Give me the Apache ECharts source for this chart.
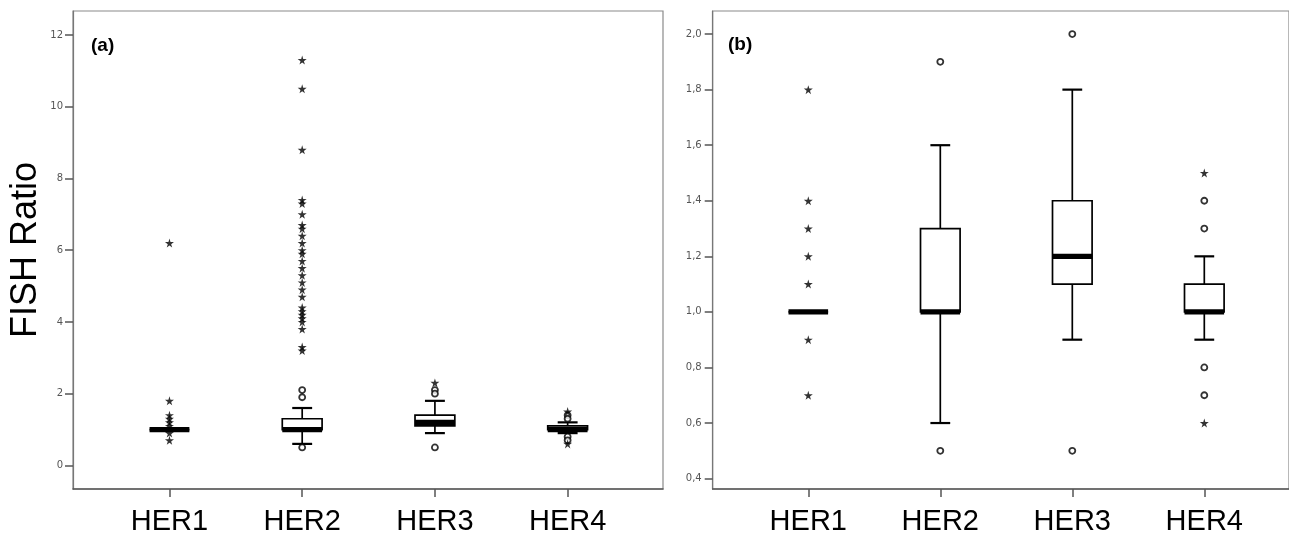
<!DOCTYPE html>
<html><head><meta charset="utf-8">
<script src="https://cdn.jsdelivr.net/npm/echarts@6/dist/echarts.min.js"></script>
<style>html,body{margin:0;padding:0;background:#fff}#c{width:1289px;height:536px}</style>
</head><body><div id="c"></div>
<script>
const categories = ['HER1', 'HER2', 'HER3', 'HER4'];
// [lower whisker, Q1, median, Q3, upper whisker]
const boxStats = [
  [1.0, 1.0, 1.0, 1.0, 1.0],
  [0.6, 1.0, 1.0, 1.3, 1.6],
  [0.9, 1.1, 1.2, 1.4, 1.8],
  [0.9, 1.0, 1.0, 1.1, 1.2]
];
const outlierCircles = [
  [],
  [2.1, 1.9, 0.5],
  [2.1, 2.0, 0.5],
  [1.4, 1.3, 0.8, 0.7]
];
const extremeStars = [
  [6.2, 1.8, 1.4, 1.3, 1.2, 1.1, 0.9, 0.7],
  [11.3, 10.5, 8.8, 7.4, 7.3, 7.0, 6.7, 6.6, 6.4, 6.2, 6.0, 5.9, 5.7, 5.5, 5.3, 5.1, 4.9, 4.7, 4.4, 4.3, 4.2, 4.1, 4.0, 3.8, 3.3, 3.2],
  [2.3],
  [1.5, 0.6]
];
const ticksA = [0, 2, 4, 6, 8, 10, 12];
const ticksB = [0.4, 0.6, 0.8, 1.0, 1.2, 1.4, 1.6, 1.8, 2.0];
const panelLabels = ['(a)', '(b)'];
const yTitle = 'FISH Ratio';

const STAR = 'path://M50,0 L61,35 L98,35 L68,57 L79,91 L50,70 L21,91 L32,57 L2,35 L39,35 Z';
const FONT = 'Liberation Sans, Arial, sans-serif';

const boxData = boxStats.map((s, i) => [i].concat(s));
const circleData = [];
outlierCircles.forEach((arr, i) => arr.forEach(v => circleData.push([categories[i], v])));
const starData = [];
extremeStars.forEach((arr, i) => arr.forEach(v => starData.push([categories[i], v])));

function renderBox(params, api) {
  const x = api.value(0);
  const lo = api.coord([x, api.value(1)]);
  const q1 = api.coord([x, api.value(2)]);
  const md = api.coord([x, api.value(3)]);
  const q3 = api.coord([x, api.value(4)]);
  const hi = api.coord([x, api.value(5)]);
  const band = api.size([1, 0])[0];
  const bw = band * 0.3, cw = bw * 0.5;
  const cx = md[0];
  const ls = { stroke: '#000', lineWidth: 1.7, fill: null };
  const ch = [];
  if (hi[1] < q3[1] - 0.5) {
    ch.push({ type: 'line', shape: { x1: cx, y1: hi[1], x2: cx, y2: q3[1] }, style: ls });
    ch.push({ type: 'line', shape: { x1: cx - cw / 2, y1: hi[1], x2: cx + cw / 2, y2: hi[1] }, style: { stroke: '#000', lineWidth: 2.2 } });
  }
  if (lo[1] > q1[1] + 0.5) {
    ch.push({ type: 'line', shape: { x1: cx, y1: q1[1], x2: cx, y2: lo[1] }, style: ls });
    ch.push({ type: 'line', shape: { x1: cx - cw / 2, y1: lo[1], x2: cx + cw / 2, y2: lo[1] }, style: { stroke: '#000', lineWidth: 2.2 } });
  }
  ch.push({ type: 'rect', shape: { x: cx - bw / 2, y: q3[1], width: bw, height: q1[1] - q3[1] }, style: { fill: '#fff', stroke: '#000', lineWidth: 1.7 } });
  ch.push({ type: 'rect', shape: { x: cx - bw / 2, y: md[1] - 2.6, width: bw, height: 5.2 }, style: { fill: '#000' } });
  return { type: 'group', children: ch };
}

function frameX(gi) {
  return { gridIndex: gi, type: 'value', min: 0, max: 1,
    axisLine: { show: true, onZero: false, lineStyle: { color: '#555', width: 1.5 } },
    axisTick: { show: false }, axisLabel: { show: false }, splitLine: { show: false } };
}
function dataX(gi) {
  return { gridIndex: gi, type: 'category', data: categories, axisLine: { show: false, onZero: false },
    axisTick: { show: true, alignWithLabel: true, length: 8, lineStyle: { color: '#555', width: 1.5 } },
    axisLabel: { fontSize: 29, fontFamily: FONT, color: '#000', margin: 18 }, splitLine: { show: false } };
}
function hiddenY(gi, min, max) {
  return { gridIndex: gi, type: 'value', min: min, max: max, show: false, splitLine: { show: false } };
}

function panelSeries(xi, yi) {
  return [
    { type: 'custom', xAxisIndex: xi, yAxisIndex: yi, renderItem: renderBox, data: boxData,
      encode: { x: 0, y: [1, 2, 3, 4, 5] }, clip: true, z: 2 },
    { type: 'scatter', xAxisIndex: xi, yAxisIndex: yi, data: circleData, symbol: 'circle', symbolSize: 6,
      itemStyle: { color: '#fff', borderColor: '#000', borderWidth: 1.8 }, clip: true, z: 3 },
    { type: 'scatter', xAxisIndex: xi, yAxisIndex: yi, data: starData, symbol: STAR, symbolSize: 9,
      itemStyle: { color: '#000' }, clip: true, z: 3 }
  ];
}

const aMin = -0.658, aMax = 12.669, bMin = 0.3626, bMax = 2.083;

const option = {
  animation: false,
  backgroundColor: '#fff',
  title: [
    { text: panelLabels[0], left: 91, top: 36, padding: 0, textStyle: { fontSize: 19, fontWeight: 'bold', fontFamily: FONT, color: '#000' } },
    { text: panelLabels[1], left: 728, top: 35, padding: 0, textStyle: { fontSize: 19, fontWeight: 'bold', fontFamily: FONT, color: '#000' } }
  ],
  grid: [
    { left: 73, top: 11, width: 590, height: 478, show: true, borderColor: '#8a8a8a', borderWidth: 1.2, backgroundColor: 'transparent' },
    { left: 103.1, top: 11, width: 530.9, height: 478 },
    { left: 712.7, top: 11, width: 600, height: 478, show: true, borderColor: '#8a8a8a', borderWidth: 1.2, backgroundColor: 'transparent' },
    { left: 742.3, top: 11, width: 528, height: 478 }
  ],
  xAxis: [frameX(0), dataX(1), frameX(2), dataX(3)],
  yAxis: [
    { gridIndex: 0, type: 'value', min: aMin, max: aMax,
      name: yTitle, nameLocation: 'middle', nameRotate: 90, nameGap: 29,
      nameTextStyle: { fontSize: 36, fontFamily: FONT, color: '#000' },
      axisLine: { show: true, onZero: false, lineStyle: { color: '#777', width: 1.2 } },
      axisTick: { show: true, length: 8, customValues: ticksA, lineStyle: { color: '#555', width: 1.5 } },
      axisLabel: { customValues: ticksA, margin: 10, fontSize: 10, fontFamily: 'DejaVu Sans', color: '#555' },
      splitLine: { show: false } },
    hiddenY(1, aMin, aMax),
    { gridIndex: 2, type: 'value', min: bMin, max: bMax,
      axisLine: { show: true, onZero: false, lineStyle: { color: '#777', width: 1.2 } },
      axisTick: { show: true, length: 8, customValues: ticksB, lineStyle: { color: '#555', width: 1.5 } },
      axisLabel: { customValues: ticksB, margin: 11, fontSize: 10, fontFamily: 'DejaVu Sans', color: '#555',
        formatter: v => v.toFixed(1).replace('.', ',') },
      splitLine: { show: false } },
    hiddenY(3, bMin, bMax)
  ],
  series: panelSeries(1, 1).concat(panelSeries(3, 3))
};

const chart = echarts.init(document.getElementById('c'), null, { renderer: 'canvas' });
chart.setOption(option);
</script>
</body></html>
